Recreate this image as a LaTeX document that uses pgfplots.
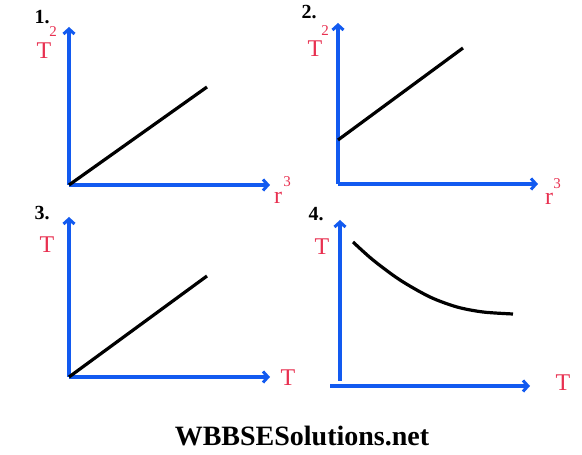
\documentclass[border=0pt]{standalone}
\usepackage{pgfplots}
\pgfplotsset{compat=1.18}
\usepackage{fontspec}
\setmainfont{Liberation Serif}
\usetikzlibrary{arrows.meta}

\definecolor{axblue}{RGB}{18,90,240}
\definecolor{lblred}{RGB}{232,48,80}

\pgfplotsset{
  panel/.style={
    scale only axis,
    anchor=origin,
    axis lines=left,
    enlargelimits=false,
    ticks=none,
    clip=false,
    every outer x axis line/.append style={axblue, line width=3.6pt, -{Straight Barb[length=5pt,width=11pt,line width=3pt]}},
    every outer y axis line/.append style={axblue, line width=3.6pt, -{Straight Barb[length=5pt,width=11pt,line width=3pt]}},
  },
}

\begin{document}
\begin{tikzpicture}[x=1pt,y=1pt]
\path (0,0) rectangle (582,455);

% 1: T^2 vs r^3 through origin
\begin{axis}[panel, at={(69pt,270pt)}, width=201pt, height=158pt,
  xmin=0, xmax=201, ymin=0, ymax=158]
\addplot[black, line width=3.2pt] coordinates {(0,0) (138,98)};
\end{axis}

% 2: T^2 vs r^3 with intercept
\begin{axis}[panel, at={(338pt,271pt)}, width=200pt, height=161pt,
  xmin=0, xmax=200, ymin=0, ymax=161]
\addplot[black, line width=3.2pt] coordinates {(0,44) (125,136)};
\end{axis}

% 3: T vs T
\begin{axis}[panel, at={(69pt,78pt)}, width=201pt, height=160pt,
  xmin=0, xmax=201, ymin=0, ymax=160]
\addplot[black, line width=3.2pt] coordinates {(0,0) (138,101)};
\end{axis}

% 4: decreasing curve
\begin{axis}[panel, at={(340pt,74pt)}, width=200pt, height=161pt,
  xmin=0, xmax=200, ymin=0, ymax=161,
  x axis line style={xshift=-10pt, yshift=-5pt}]
\addplot[black, line width=3.2pt, smooth] coordinates {
  (13,139) (33,121) (60,101) (90,84) (117,74) (143,69) (173,67)};
\end{axis}

% panel numbers
\node[font=\fontsize{20}{20}\selectfont\bfseries] at (42,438) {1.};
\node[font=\fontsize{20}{20}\selectfont\bfseries] at (309,443) {2.};
\node[font=\fontsize{20}{20}\selectfont\bfseries] at (42,242) {3.};
\node[font=\fontsize{20}{20}\selectfont\bfseries] at (316,241) {4.};

% axis labels
\begin{scope}[lblred, font=\fontsize{24}{24}\selectfont, every node/.style={inner sep=0pt}]
\node at (44,404) {T};
\node[font=\fontsize{15}{15}\selectfont] at (53,423) {2};
\node at (278,257) {r};
\node[font=\fontsize{15}{15}\selectfont] at (287,273) {3};

\node at (315,406) {T};
\node[font=\fontsize{15}{15}\selectfont] at (325,424) {2};
\node at (549,256) {r};
\node[font=\fontsize{15}{15}\selectfont] at (557,271) {3};

\node at (47,210) {T};
\node at (288,77) {T};

\node at (322,208) {T};
\node at (563,72) {T};
\end{scope}

% watermark
\node[font=\fontsize{28}{28}\selectfont\bfseries] at (302,19) {WBBSESolutions.net};
\end{tikzpicture}
\end{document}
